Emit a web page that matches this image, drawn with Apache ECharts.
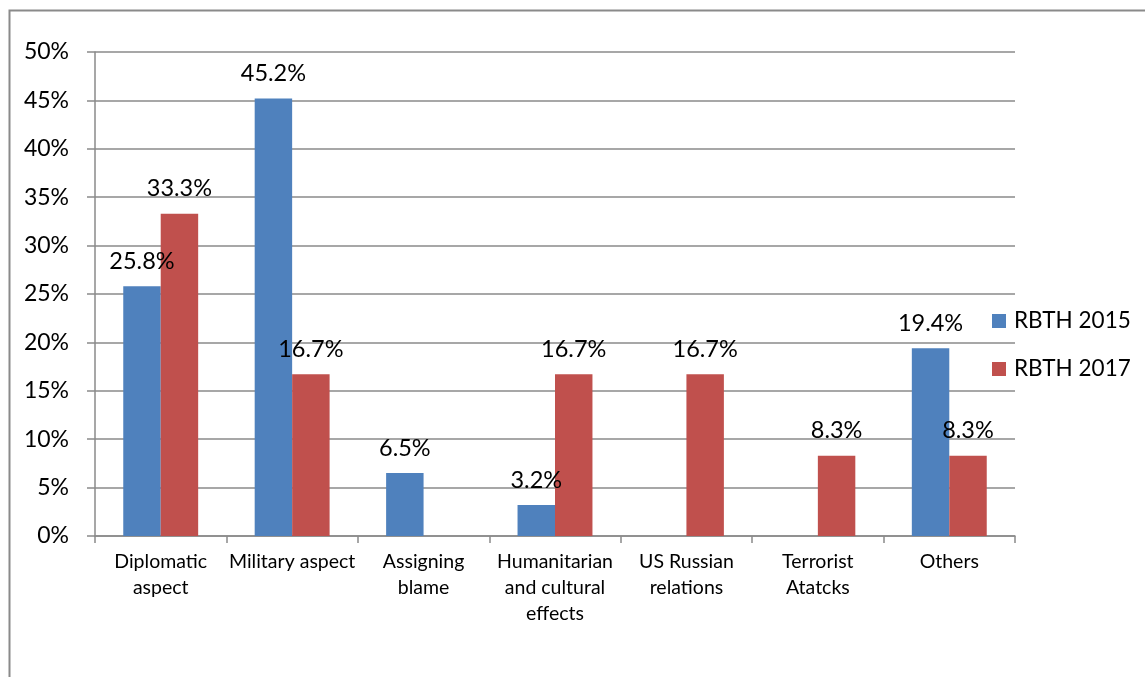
<!DOCTYPE html>
<html>
<head>
<meta charset="utf-8">
<script src="https://cdn.jsdelivr.net/npm/echarts@6/dist/echarts.min.js"></script>
<style>
html,body{margin:0;padding:0;background:#fff;}
#chart{width:1145px;height:677px;}
</style>
</head>
<body>
<div id="chart"></div>
<script>
const categories = ["Diplomatic\naspect", "Military aspect", "Assigning\nblame", "Humanitarian\nand cultural\neffects", "US Russian\nrelations", "Terrorist\nAtatcks", "Others"];
const rbth2015 = [25.8, 45.2, 6.5, 3.2, null, null, 19.4];
const rbth2017 = [33.3, 16.7, null, 16.7, 16.7, 8.3, 8.3];
const seriesNames = ["RBTH 2015", "RBTH 2017"];
const yTicks = [0, 5, 10, 15, 20, 25, 30, 35, 40, 45, 50];

const FONT = "Lato, 'Open Sans', sans-serif";
const chart = echarts.init(document.getElementById('chart'), null, {renderer: 'canvas'});
const labelCfg = {
  show: true, position: 'top', distance: 13,
  fontFamily: FONT, fontSize: 23.5, color: '#000',
  formatter: p => p.value == null ? '' : p.value.toFixed(1) + '%'
};
chart.setOption({
  animation: false,
  backgroundColor: '#fff',
  graphic: [{
    type: 'rect', left: 7, top: 8, silent: true,
    shape: {x: 0, y: 0, width: 1200, height: 720},
    style: {fill: 'none', stroke: '#8a8a8a', lineWidth: 2}
  }],
  grid: {left: 95, right: 130, top: 52, bottom: 141, containLabel: false},
  legend: {
    orient: 'vertical', left: 992, top: 309, padding: 0,
    itemWidth: 14, itemHeight: 14, itemGap: 24,
    icon: 'rect',
    textStyle: {fontFamily: FONT, fontSize: 22.5, lineHeight: 24, color: '#000', padding: [0, 0, 0, 3]},
    data: seriesNames
  },
  xAxis: {
    type: 'category', data: categories,
    axisLine: {lineStyle: {color: '#8a8a8a', width: 1.5}},
    axisTick: {show: true, length: 7, lineStyle: {color: '#8a8a8a', width: 1.5}},
    axisLabel: {fontFamily: FONT, fontSize: 19.5, color: '#000', margin: 13, lineHeight: 26, interval: 0}
  },
  yAxis: {
    type: 'value', min: yTicks[0], max: yTicks[yTicks.length - 1], interval: 5,
    axisLine: {show: true, lineStyle: {color: '#8a8a8a', width: 1.5}},
    axisTick: {show: true, length: 8, lineStyle: {color: '#8a8a8a', width: 1.5}},
    splitLine: {lineStyle: {color: '#8a8a8a', width: 1.5}},
    axisLabel: {fontFamily: FONT, fontSize: 23, color: '#000', margin: 26, formatter: v => v + '%'}
  },
  series: [
    {name: seriesNames[0], type: 'bar', data: rbth2015, barGap: '0%', barCategoryGap: '43%',
     itemStyle: {color: '#4F81BD'}, label: labelCfg},
    {name: seriesNames[1], type: 'bar', data: rbth2017, barGap: '0%', barCategoryGap: '43%',
     itemStyle: {color: '#C0504D'}, label: labelCfg}
  ]
});
</script>
</body>
</html>
